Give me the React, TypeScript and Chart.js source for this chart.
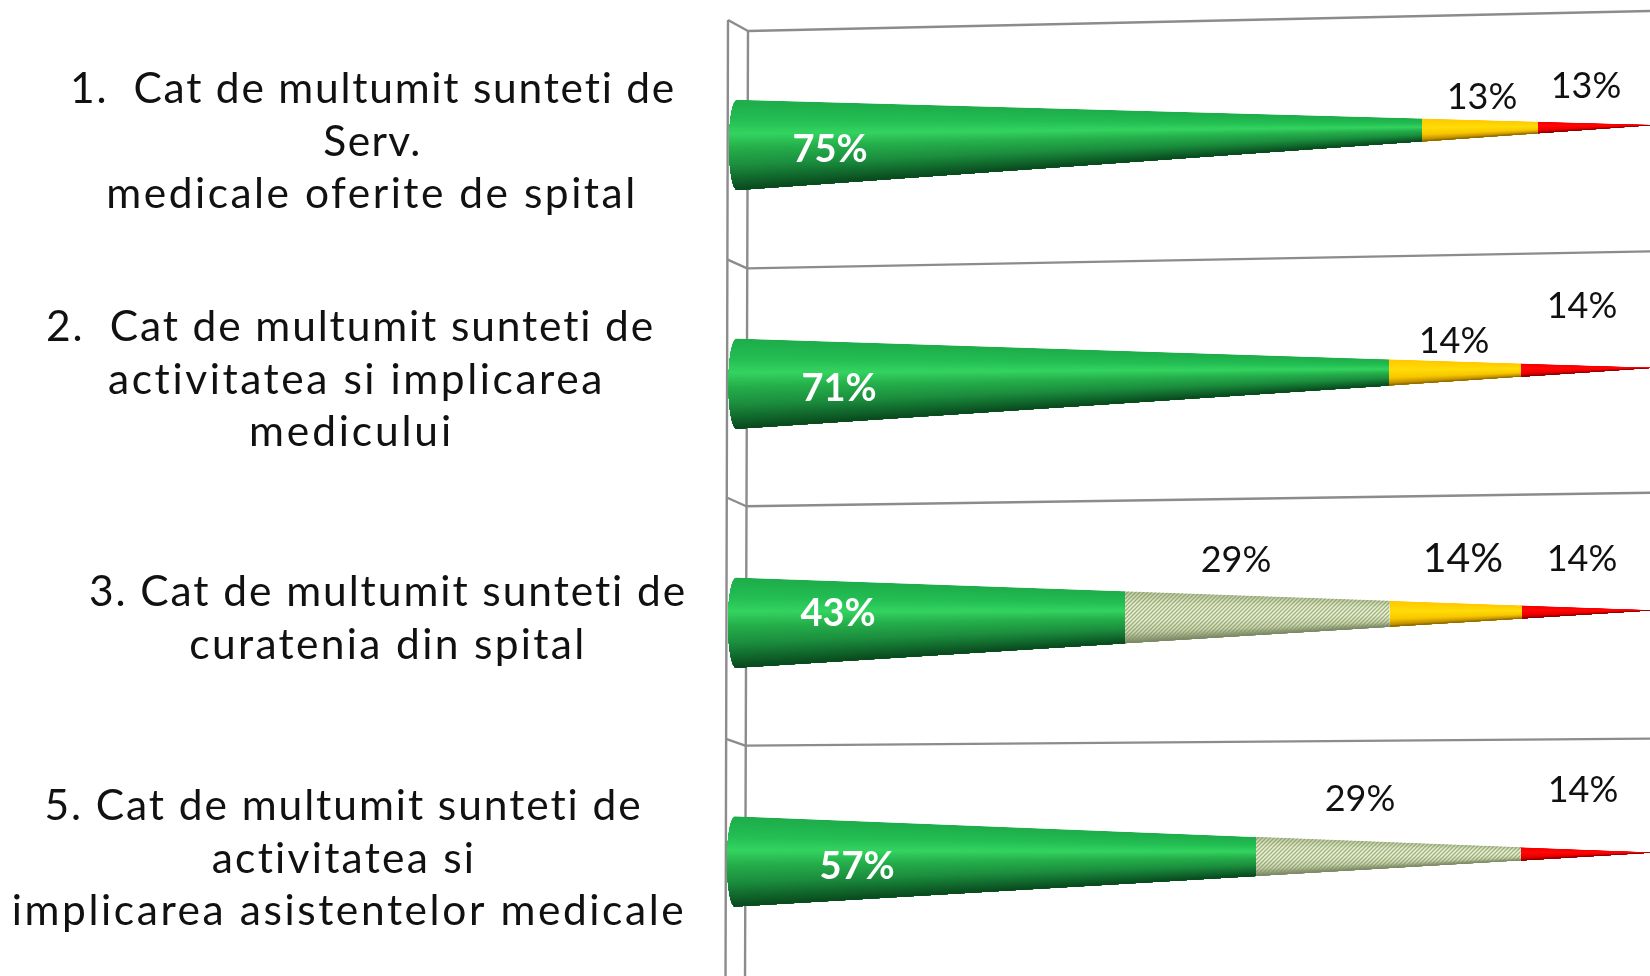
import React, { useEffect, useRef } from "react";
import { Chart, registerables } from "chart.js";

Chart.register(...registerables);

// ---- data ----
const categories: string[][] = [
  ["1.  Cat de multumit sunteti de", "Serv.", "medicale oferite de spital"],
  ["2.  Cat de multumit sunteti de", "activitatea si implicarea", "medicului"],
  ["3. Cat de multumit sunteti de", "curatenia din spital"],
  ["5. Cat de multumit sunteti de", "activitatea si", "implicarea asistentelor medicale"],
];
const greenValues = [75, 71.4, 42.9, 57.1];
const hatchValues = [0, 0, 28.6, 28.6];
const yellowValues = [12.5, 14.3, 14.3, 0];
const redValues = [12.5, 14.3, 14.3, 14.3];

// ---- layout (text anchors and perspective, not data) ----
const W = 1650;
const CANVAS_W = 1653;
const H = 981;
const catCenters = [
  [373, 372.5, 372],
  [350.5, 356.5, 351.5],
  [388, 388],
  [343.5, 344, 349],
];
const catWidths = [
  [605, 97, 529],
  [608, 495, 202],
  [597, 395],
  [597, 263, 672],
];
const catLineY = [
  [89, 142, 194],
  [327, 380, 432],
  [592, 645],
  [806, 859, 911],
];
const CAT_FONT = '42.5px "Lato", sans-serif';

const labelPos: (number[] | null)[][] = [
  [[830, 150], [839, 389], [838, 614], [857, 867]],
  [null, null, [1236, 560], [1360, 799]],
  [[1482, 97], [1454, 341], [1463, 559], null],
  [[1586, 86], [1582, 306], [1582, 559], [1583, 790]],
];
const labelSize = [
  [38, 38, 38, 38],
  [36, 36, 36, 36],
  [36, 36, 41, 36],
  [36, 36, 36, 36],
];
const coneTilt = [20, 16, 12.5, 9];
const baseShift = [0, -0.5, -1, -2];
const gridTilt = [20, 17, 13.5, 7];
const gridDrop = [5.5, 4, 3, 3.5];
const gridDepth = [11, 9, 9, 7];
const GRID = "#8c8c8c";

type Stop = [number, [number, number, number]];
const rampGreen: Stop[] = [
  [-1, [30, 172, 74]],
  [-0.55, [36, 190, 84]],
  [-0.25, [52, 212, 96]],
  [0.05, [38, 176, 76]],
  [0.45, [28, 142, 62]],
  [0.8, [16, 98, 42]],
  [1, [10, 72, 30]],
];
const rampHatch: Stop[] = [
  [-1, [190, 200, 160]],
  [-0.5, [236, 242, 208]],
  [0.1, [238, 244, 212]],
  [0.6, [206, 214, 176]],
  [1, [120, 128, 100]],
];
const rampYellow: Stop[] = [
  [-1, [255, 200, 0]],
  [-0.2, [255, 220, 10]],
  [0.4, [248, 200, 0]],
  [0.82, [196, 146, 0]],
  [1, [130, 100, 10]],
];
const rampRed: Stop[] = [
  [-1, [245, 0, 0]],
  [-0.2, [255, 10, 10]],
  [0.4, [244, 0, 0]],
  [0.82, [192, 0, 0]],
  [1, [120, 0, 0]],
];
const ramps = [rampGreen, rampHatch, rampYellow, rampRed];

function rampColor(r: Stop[], v: number) {
  for (let i = 1; i < r.length; i++) {
    if (v <= r[i][0]) {
      const a = r[i - 1];
      const b = r[i];
      const k = (v - a[0]) / (b[0] - a[0]);
      const c = a[1].map((x, n) => Math.round(x + (b[1][n] - x) * k));
      return `rgb(${c[0]},${c[1]},${c[2]})`;
    }
  }
  const l = r[r.length - 1][1];
  return `rgb(${l[0]},${l[1]},${l[2]})`;
}

function hatchPattern(ctx: CanvasRenderingContext2D) {
  const t = document.createElement("canvas");
  t.width = 4;
  t.height = 4;
  const c = t.getContext("2d")!;
  c.strokeStyle = "rgba(122,146,96,0.68)";
  c.lineWidth = 1.3;
  for (let o = -4; o <= 8; o += 4) {
    c.beginPath();
    c.moveTo(o - 1, 5);
    c.lineTo(o + 5, -1);
    c.stroke();
  }
  return ctx.createPattern(t, "repeat")!;
}

const conePlugin = {
  id: "cones",
  beforeDatasetsDraw(chart: any) {
    const { ctx, scales } = chart;
    const x0 = scales.x.getPixelForValue(0);
    ctx.save();
    ctx.strokeStyle = GRID;
    ctx.lineWidth = 2.4;
    ctx.lineJoin = "round";
    const front0 = x0 - 1;
    const back0 = x0 + 19;
    categories.forEach((_, i) => {
      const by = scales.y.getPixelForValue(i - 0.5) + gridDrop[i];
      const s = -i * 0.9;
      ctx.beginPath();
      ctx.moveTo(front0 + s, by - gridDepth[i]);
      ctx.lineTo(back0 + s, by);
      ctx.lineTo(W, by - gridTilt[i]);
      ctx.stroke();
    });
    ctx.beginPath();
    ctx.moveTo(front0, 20);
    ctx.lineTo(front0 - 2.5, H);
    ctx.moveTo(back0, 31);
    ctx.lineTo(back0 - 3, H);
    ctx.stroke();
    ctx.restore();
  },
  beforeDatasetDraw(chart: any, args: any) {
    const { ctx, scales } = chart;
    const di = args.index;
    const meta = chart.getDatasetMeta(di);
    const x0 = scales.x.getPixelForValue(0);
    const tip = scales.x.getPixelForValue(100);
    meta.data.forEach((bar: any, i: number) => {
      const value = chart.data.datasets[di].data[i];
      if (!value) return;
      const R = bar.height / 2;
      const yC = bar.y;
      const shift = baseShift[i];
      const T = (x: number) => (x - x0) / (tip - x0);
      const X = (x: number) => x + shift * (1 - T(x));
      const c = (x: number) => yC - coneTilt[i] * T(x);
      const r = (x: number) => R * (1 - T(x));
      const first = Math.abs(bar.base - x0) < 0.01;
      const xs = first ? x0 + 8 : bar.base - 1;
      const xe = bar.x;

      ctx.save();
      ctx.beginPath();
      ctx.moveTo(X(xs), c(xs) - r(xs));
      ctx.lineTo(X(xe), c(xe) - r(xe));
      ctx.lineTo(X(xe), c(xe) + r(xe));
      ctx.lineTo(X(xs), c(xs) + r(xs));
      if (first) {
        ctx.ellipse(X(xs), c(xs), 8, r(xs), 0, Math.PI / 2, -Math.PI / 2, false);
      }
      ctx.closePath();
      ctx.clip();

      const left = xs - 10;
      const N = 70;
      for (let b = 0; b < N; b++) {
        const v = -1 + (2 * b) / N;
        ctx.fillStyle = rampColor(ramps[di], v + 1 / N);
        const vy = (x: number) => yC - coneTilt[i] * T(x) + v * R * (1 - T(x));
        ctx.beginPath();
        ctx.moveTo(left, vy(left));
        ctx.lineTo(xe + 2, vy(xe + 2));
        ctx.lineTo(xe + 2, 2000);
        ctx.lineTo(left, 2000);
        ctx.closePath();
        ctx.fill();
      }
      if (di === 1) {
        ctx.fillStyle = hatchPattern(ctx);
        ctx.fillRect(xs - 2, yC - R - 30, xe - xs + 4, 2 * R + 60);
      }
      ctx.restore();
    });
    return false;
  },
  afterDraw(chart: any) {
    const { ctx } = chart;
    ctx.save();
    ctx.textBaseline = "middle";
    ctx.textAlign = "center";
    // category text: each line is spaced out to the width it has in the reference
    ctx.fillStyle = "#111111";
    ctx.font = CAT_FONT;
    categories.forEach((lines, i) => {
      lines.forEach((line, l) => {
        (ctx as any).letterSpacing = "0px";
        const natural = ctx.measureText(line).width;
        (ctx as any).letterSpacing = `${(catWidths[i][l] - natural) / (line.length - 1)}px`;
        ctx.fillText(line, catCenters[i][l], catLineY[i][l]);
      });
    });
    (ctx as any).letterSpacing = "0px";
    // data labels
    chart.data.datasets.forEach((ds: any, di: number) => {
      ds.data.forEach((val: number, i: number) => {
        const p = labelPos[di][i];
        if (!val || !p) return;
        const white = di === 0;
        ctx.fillStyle = white ? "#ffffff" : "#111111";
        ctx.font = `${white ? "700" : "400"} ${labelSize[di][i]}px "Lato", sans-serif`;
        ctx.fillText(`${Math.round(val)}%`, p[0], p[1]);
      });
    });
    ctx.restore();
  },
};

export default function App() {
  const ref = useRef<HTMLCanvasElement>(null);
  useEffect(() => {
    const chart = new Chart(ref.current!, {
      type: "bar",
      data: {
        labels: categories.map((c) => c.join(" ")),
        datasets: [
          { label: "Verde", data: greenValues, backgroundColor: "#22b14c" },
          { label: "Hasurat", data: hatchValues, backgroundColor: "#dfe6c4" },
          { label: "Galben", data: yellowValues, backgroundColor: "#ffd200" },
          { label: "Rosu", data: redValues, backgroundColor: "#ff0000" },
        ],
      },
      options: {
        indexAxis: "y",
        responsive: false,
        animation: false,
        maintainAspectRatio: false,
        layout: { padding: { left: 729, right: 0, top: 25.5, bottom: 0 } },
        datasets: { bar: { categoryPercentage: 1, barPercentage: 0.381 } },
        plugins: { legend: { display: false }, tooltip: { enabled: false }, title: { display: false } },
        scales: {
          x: { stacked: true, min: 0, max: 100, display: false },
          y: { stacked: true, display: false },
        },
      },
      plugins: [conePlugin],
    } as any);
    return () => chart.destroy();
  }, []);
  return (
    <div style={{ position: "absolute", left: 0, top: 0, width: W, height: 976, overflow: "hidden", background: "#fff" }}>
      <canvas ref={ref} width={CANVAS_W} height={H} style={{ display: "block" }} />
    </div>
  );
}
